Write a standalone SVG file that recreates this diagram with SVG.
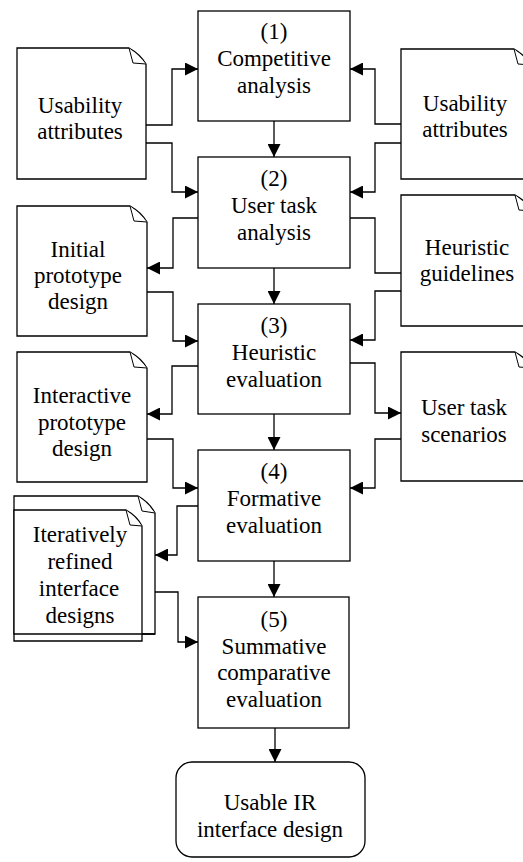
<svg xmlns="http://www.w3.org/2000/svg" width="523" height="862" viewBox="0 0 523 862">
<style>
.b{fill:#fff;stroke:#000;stroke-width:1.3}
.f{fill:#fff;stroke:#000;stroke-width:1}
.c{fill:none;stroke:#000;stroke-width:1.3}
</style>
<defs>
<marker id="ah" viewBox="0 0 13 13" refX="13" refY="6.5" markerWidth="13" markerHeight="13" markerUnits="userSpaceOnUse" orient="auto">
<path d="M0,0 L13,6.5 L0,13 Z" fill="#000"/>
</marker>
</defs>
<rect width="523" height="862" fill="#fff"/>

<g id="connectors" class="c">
<path marker-end="url(#ah)" d="M146,125 H172 V69 H198"/>
<path marker-end="url(#ah)" d="M146,143 H172 V192 H198"/>
<path marker-end="url(#ah)" d="M401,124 H375 V69 H350"/>
<path marker-end="url(#ah)" d="M401,143 H375 V192 H350"/>
<path marker-end="url(#ah)" d="M274,121 V157"/>
<path marker-end="url(#ah)" d="M198,218 H173 V268 H147"/>
<path marker-end="url(#ah)" d="M147,292 H173 V341 H198"/>
<path d="M350,218 H375 V273 H401"/>
<path marker-end="url(#ah)" d="M401,291 H375 V340 H350"/>
<path marker-end="url(#ah)" d="M274,268 V304"/>
<path marker-end="url(#ah)" d="M198,366 H172 V414 H147"/>
<path marker-end="url(#ah)" d="M147,439 H173 V488 H198"/>
<path marker-end="url(#ah)" d="M350,363 H375 V413 H401"/>
<path marker-end="url(#ah)" d="M401,439 H375 V488 H350"/>
<path marker-end="url(#ah)" d="M274,414 V450"/>
<path marker-end="url(#ah)" d="M198,506 H177 V555 H155"/>
<path marker-end="url(#ah)" d="M155,592 H178 V642 H198"/>
<path marker-end="url(#ah)" d="M274,561 V597"/>
<path marker-end="url(#ah)" d="M275,728 V762"/>
</g>

<g id="step1">
<rect class="b" x="198" y="11" width="152" height="110"/>
<text font-family="Liberation Serif" font-size="23" text-anchor="middle"><tspan style="font-family:'Liberation Serif'" x="274" y="39">(1)</tspan><tspan style="font-family:'Liberation Serif'" x="274" y="66">Competitive</tspan><tspan style="font-family:'Liberation Serif'" x="274" y="93">analysis</tspan></text>
</g>
<g id="step2">
<rect class="b" x="198" y="157" width="152" height="111"/>
<text font-family="Liberation Serif" font-size="23" text-anchor="middle"><tspan style="font-family:'Liberation Serif'" x="274" y="186">(2)</tspan><tspan style="font-family:'Liberation Serif'" x="274" y="213">User task</tspan><tspan style="font-family:'Liberation Serif'" x="274" y="240">analysis</tspan></text>
</g>
<g id="step3">
<rect class="b" x="198" y="304" width="152" height="110"/>
<text font-family="Liberation Serif" font-size="23" text-anchor="middle"><tspan style="font-family:'Liberation Serif'" x="274" y="333">(3)</tspan><tspan style="font-family:'Liberation Serif'" x="274" y="360">Heuristic</tspan><tspan style="font-family:'Liberation Serif'" x="274" y="387">evaluation</tspan></text>
</g>
<g id="step4">
<rect class="b" x="198" y="450" width="152" height="111"/>
<text font-family="Liberation Serif" font-size="23" text-anchor="middle"><tspan style="font-family:'Liberation Serif'" x="274" y="479">(4)</tspan><tspan style="font-family:'Liberation Serif'" x="274" y="506">Formative</tspan><tspan style="font-family:'Liberation Serif'" x="274" y="533">evaluation</tspan></text>
</g>
<g id="step5">
<rect class="b" x="198" y="597" width="151" height="131"/>
<text font-family="Liberation Serif" font-size="23" text-anchor="middle"><tspan style="font-family:'Liberation Serif'" x="274" y="627">(5)</tspan><tspan style="font-family:'Liberation Serif'" x="274" y="654">Summative</tspan><tspan style="font-family:'Liberation Serif'" x="274" y="680">comparative</tspan><tspan style="font-family:'Liberation Serif'" x="274" y="707">evaluation</tspan></text>
</g>
<g id="result">
<rect class="b" x="176" y="762" width="189" height="95" rx="16" ry="16"/>
<text font-family="Liberation Serif" font-size="23" text-anchor="middle"><tspan style="font-family:'Liberation Serif'" x="270" y="810">Usable IR</tspan><tspan style="font-family:'Liberation Serif'" x="270" y="837">interface design</tspan></text>
</g>

<g id="doc-usability-left">
<path class="b" d="M17,48 H129 Q140,54 146,64 V179 H17 Z"/>
<path class="f" d="M129,48 L133,63 L146,64"/>
<text font-family="Liberation Serif" font-size="23" text-anchor="middle"><tspan style="font-family:'Liberation Serif'" x="80" y="113">Usability</tspan><tspan style="font-family:'Liberation Serif'" x="80" y="139">attributes</tspan></text>
</g>
<g id="doc-usability-right">
<path class="b" d="M401,49 H514 Q525,55 531,65 V179 H401 Z"/>
<path class="f" d="M514,49 L518,64 L531,65"/>
<text font-family="Liberation Serif" font-size="23" text-anchor="middle"><tspan style="font-family:'Liberation Serif'" x="465" y="111">Usability</tspan><tspan style="font-family:'Liberation Serif'" x="465" y="137">attributes</tspan></text>
</g>
<g id="doc-initial-prototype">
<path class="b" d="M17,206 H130 Q141,212 147,222 V336 H17 Z"/>
<path class="f" d="M130,206 L134,221 L147,222"/>
<text font-family="Liberation Serif" font-size="23" text-anchor="middle"><tspan style="font-family:'Liberation Serif'" x="78" y="257">Initial</tspan><tspan style="font-family:'Liberation Serif'" x="78" y="283">prototype</tspan><tspan style="font-family:'Liberation Serif'" x="78" y="309">design</tspan></text>
</g>
<g id="doc-heuristic-guidelines">
<path class="b" d="M401,195 H515 Q526,201 532,211 V326 H401 Z"/>
<path class="f" d="M515,195 L519,210 L532,211"/>
<text font-family="Liberation Serif" font-size="23" text-anchor="middle"><tspan style="font-family:'Liberation Serif'" x="467" y="255">Heuristic</tspan><tspan style="font-family:'Liberation Serif'" x="467" y="281">guidelines</tspan></text>
</g>
<g id="doc-interactive-prototype">
<path class="b" d="M17,352 H130 Q141,358 147,368 V482 H17 Z"/>
<path class="f" d="M130,352 L134,367 L147,368"/>
<text font-family="Liberation Serif" font-size="23" text-anchor="middle"><tspan style="font-family:'Liberation Serif'" x="82" y="403">Interactive</tspan><tspan style="font-family:'Liberation Serif'" x="82" y="430">prototype</tspan><tspan style="font-family:'Liberation Serif'" x="82" y="456">design</tspan></text>
</g>
<g id="doc-user-task-scenarios">
<path class="b" d="M401,352 H515 Q526,358 532,368 V481 H401 Z"/>
<path class="f" d="M515,352 L519,367 L532,368"/>
<text font-family="Liberation Serif" font-size="23" text-anchor="middle"><tspan style="font-family:'Liberation Serif'" x="464" y="415">User task</tspan><tspan style="font-family:'Liberation Serif'" x="464" y="442">scenarios</tspan></text>
</g>
<g id="doc-iterative-designs">
<path class="b" d="M14,496 H138 Q149,502 155,513 V634 H14 Z"/>
<path class="f" d="M138,496 L142,511 L155,513"/>
<path class="b" d="M14,510 H126 Q137,516 142,526 V641 H14 Z"/>
<path class="f" d="M126,510 L130,525 L142,526"/>
<path class="c" d="M14,634 H155"/>
<text font-family="Liberation Serif" font-size="23" text-anchor="middle"><tspan style="font-family:'Liberation Serif'" x="80" y="542">Iteratively</tspan><tspan style="font-family:'Liberation Serif'" x="80" y="569">refined</tspan><tspan style="font-family:'Liberation Serif'" x="79" y="596">interface</tspan><tspan style="font-family:'Liberation Serif'" x="80" y="623">designs</tspan></text>
</g>
</svg>
